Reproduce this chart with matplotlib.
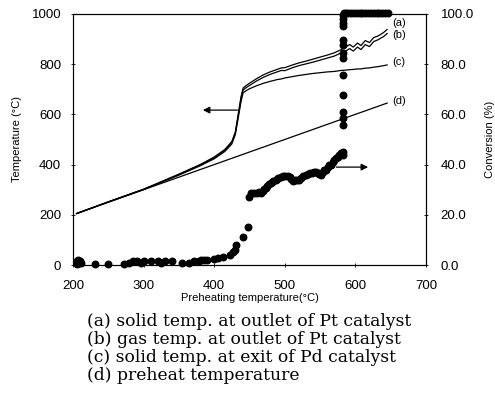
import matplotlib
matplotlib.use('Agg')
import matplotlib.pyplot as plt
import numpy as np

### (0) Data
# temperature curves vs preheating temperature
x_t = [205, 250, 300, 350, 380, 400, 415, 425, 430, 434, 438, 441, 445, 450, 460, 470,
       480, 490, 495, 500, 510, 520, 530, 540, 550, 560, 570, 580, 586, 592, 597, 603,
       608, 614, 620, 626, 632, 640, 645]
temp_a = [205, 252, 302, 362, 400, 430, 460, 492, 530, 600, 670, 705, 714, 724, 742, 758,
          770, 780, 785, 786, 796, 805, 812, 820, 828, 836, 845, 858, 868, 878, 868, 884,
          874, 894, 886, 906, 912, 926, 938]
temp_b = [205, 251, 301, 360, 398, 427, 457, 488, 526, 594, 662, 697, 706, 715, 733, 748,
          760, 770, 775, 774, 785, 794, 801, 808, 816, 824, 832, 845, 852, 862, 852, 868,
          858, 878, 870, 890, 897, 910, 922]
temp_c = [205, 251, 301, 358, 395, 423, 452, 482, 520, 585, 650, 686, 694, 702, 714, 724,
          732, 739, 741, 745, 750, 755, 759, 763, 766, 769, 771, 775, 776, 778, 779, 781,
          781, 784, 785, 788, 790, 794, 797]
x_d = [205, 300, 400, 500, 600, 645]
temp_d = [205, 300, 400, 500, 600, 645]

# conversion (%) points
conv_x = [205, 206, 207, 208, 210, 212, 231, 250, 272, 280, 285, 290, 296, 300, 310, 320,
          325, 330, 340, 355, 365, 372, 378, 382, 386, 390, 400, 405, 413, 423, 427, 429,
          431, 441, 448,
          449, 452, 456, 460, 463, 466, 469, 471, 473, 475, 477, 480, 482, 484, 487, 489,
          491, 494, 497, 500, 504, 507, 509, 511, 514, 517, 520, 523, 526, 530, 533, 536,
          539, 541, 544, 547, 549, 551, 554, 556, 558, 561, 563, 565, 568, 570, 572, 575,
          577, 579,
          582, 582, 582, 582, 582, 582, 582, 582, 582, 582, 582, 582, 582, 582, 582,
          584, 587, 590, 594, 598, 602, 606, 610, 614, 618, 622, 626, 630, 634, 638, 642, 646]
conv_y = [1.5, 0.5, 2.0, 1.0, 1.5, 1.0, 0.5, 0.5, 0.5, 1.0, 1.5, 1.5, 1.0, 1.5, 1.5, 1.5,
          1.0, 1.5, 1.5, 1.0, 1.0, 1.5, 1.5, 2.0, 2.0, 2.0, 2.5, 2.7, 3.2, 4.0, 5.0, 6.0,
          8.0, 11.0, 15.0,
          27.0, 28.5, 28.7, 28.5, 29.0, 28.7, 29.5, 30.2, 30.7, 31.5, 32.2, 32.7, 33.0, 33.5,
          34.0, 34.3, 34.8, 35.0, 35.3, 35.5, 35.5, 35.0, 34.2, 33.5, 33.8, 34.0, 34.0, 34.8,
          35.4, 36.0, 36.2, 36.5, 36.8, 37.0, 37.2, 36.8, 36.4, 36.0, 37.0, 37.8, 38.0, 39.0,
          39.8, 40.0, 41.0, 41.8, 42.6, 43.2, 44.0, 44.6,
          44.0, 45.0, 55.8, 58.5, 61.0, 67.7, 75.7, 82.5, 84.5, 87.6, 89.6, 95.0, 96.5, 98.0, 99.5,
          100.2, 100.3, 100.2, 100.3, 100.2, 100.3, 100.2, 100.2, 100.3, 100.2, 100.2, 100.3,
          100.2, 100.2, 100.3, 100.2, 100.2]

labels = ['(a)', '(b)', '(c)', '(d)']
label_y = [963, 916, 809, 653]
legend_lines = ['(a) solid temp. at outlet of Pt catalyst',
                '(b) gas temp. at outlet of Pt catalyst',
                '(c) solid temp. at exit of Pd catalyst',
                '(d) preheat temperature']

### (1) Plot
plt.rcParams['font.family'] = ['Liberation Sans', 'DejaVu Sans']
fig = plt.figure(figsize=(4.95, 4.04), dpi=100)
ax1 = fig.add_axes([0.1475, 0.344, 0.713, 0.6215])

ax1.plot(x_t, temp_a, color='black', lw=0.9)
ax1.plot(x_t, temp_b, color='black', lw=0.9)
ax1.plot(x_t, temp_c, color='black', lw=0.9)
ax1.plot(x_d, temp_d, color='black', lw=0.9)
for lb, yy in zip(labels, label_y):
    ax1.text(652, yy, lb, fontsize=8, va='center', ha='left')

ax1.annotate('', xy=(380, 617), xytext=(437, 617),
             arrowprops=dict(arrowstyle='-|>', color='black', lw=0.9, mutation_scale=10))

ax1.set_xlim(200, 700)
ax1.set_ylim(0, 1000)
ax1.set_xticks(np.arange(200, 701, 100))
ax1.set_yticks(np.arange(0, 1001, 200))
ax1.tick_params(direction='inout', length=3, width=0.6, labelsize=9.5)
ax1.tick_params(axis='x', pad=9)
ax1.tick_params(axis='y', pad=7)
ax1.set_xlabel('Preheating temperature(°C)', fontsize=8, labelpad=1)
ax1.set_ylabel('Temperature (°C)', fontsize=8, labelpad=7)

ax2 = ax1.twinx()
ax2.scatter(conv_x, conv_y, s=22, color='black', zorder=3, clip_on=False)
ax2.annotate('', xy=(622, 39), xytext=(569, 39),
             arrowprops=dict(arrowstyle='-|>', color='black', lw=0.9, mutation_scale=10))
ax2.set_ylim(0, 100)
ax2.set_yticks(np.arange(0, 101, 20))
ax2.set_yticklabels(['{:.1f}'.format(v) for v in np.arange(0, 101, 20)])
ax2.tick_params(direction='inout', length=3, width=0.6, labelsize=9.5, pad=9)
ax2.set_ylabel('Conversion (%)', fontsize=8, labelpad=8)

for i, t in enumerate(legend_lines):
    fig.text(87 / 495, 1 - (322 + 17.7 * i) / 404, t, family='DejaVu Serif',
             fontsize=12.3, va='center', ha='left')

fig.savefig('out.png', dpi=100)
